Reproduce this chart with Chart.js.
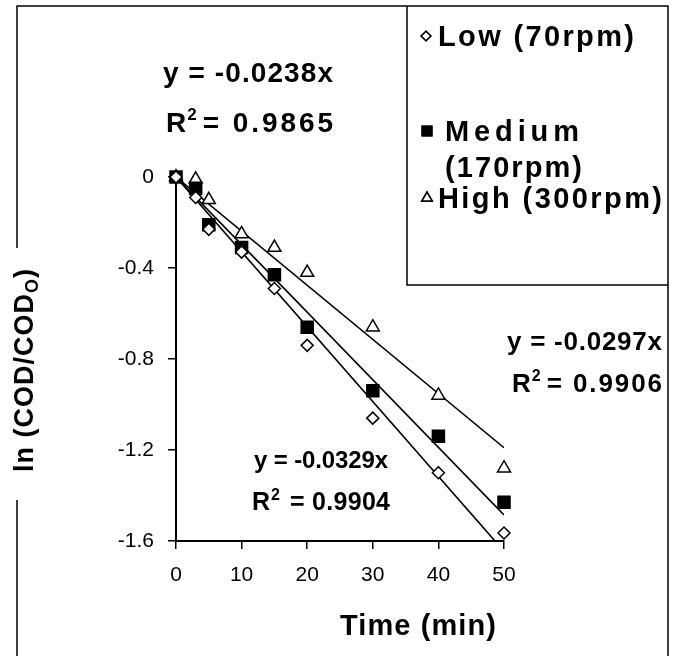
<!DOCTYPE html>
<html>
<head>
<meta charset="utf-8">
<script src="https://cdn.jsdelivr.net/npm/chart.js@4.4.0/dist/chart.umd.min.js"></script>
<style>
  html, body { margin: 0; padding: 0; background: #fff; }
  #wrap { width: 674px; height: 656px; }
</style>
</head>
<body>
<div id="wrap"><canvas id="kinetics" width="674" height="656"></canvas></div>
<script>
// Datos
const times = [0, 3, 5, 10, 15, 20, 30, 40, 50];
const lowValues = [0, -0.09, -0.23, -0.33, -0.49, -0.74, -1.06, -1.30, -1.565];
const mediumValues = [0, -0.05, -0.21, -0.31, -0.43, -0.66, -0.94, -1.14, -1.43];
const highValues = [0, -0.01, -0.10, -0.25, -0.31, -0.42, -0.66, -0.96, -1.28];
const seriesNames = ['Low (70rpm)', 'Medium', '(170rpm)', 'High (300rpm)'];

// Líneas de tendencia (pasan por el origen)
const trendX = [0, 50];
const lowTrend = [0, -1.645];
const mediumTrend = [0, -1.485];
const highTrend = [0, -1.19];
const trendEquations = ['y = -0.0329x', 'y = -0.0297x', 'y = -0.0238x'];
const trendR2 = ['0.9904', '0.9906', '0.9865'];

const xTicks = [0, 10, 20, 30, 40, 50];
const yTicks = [-1.6, -1.2, -0.8, -0.4, 0];
const yTickLabels = ['-1.6', '-1.2', '-0.8', '-0.4', '0'];

const FONT = "'Liberation Sans', Arial, sans-serif";

const toPoints = (xs, ys) => xs.map((x, i) => ({ x: x, y: ys[i] }));

function markerSet(label, values, style, fill, radius) {
  return {
    label: label,
    data: toPoints(times, values),
    showLine: false,
    pointStyle: style,
    pointRadius: radius,
    pointHoverRadius: radius,
    pointBackgroundColor: fill,
    pointBorderColor: '#000',
    pointBorderWidth: 1.5,
    clip: false
  };
}

function trendSet(values) {
  return {
    data: toPoints(trendX, values),
    showLine: true,
    borderColor: '#000',
    borderWidth: 1.6,
    pointRadius: 0,
    fill: false
  };
}

// texto con espaciado para ajustar a un ancho dado
function fitText(ctx, str, x, y, size, width, align) {
  ctx.font = 'bold ' + size + 'px ' + FONT;
  ctx.letterSpacing = '0px';
  const w = ctx.measureText(str).width;
  let ls = width ? (width - w) / Math.max(1, str.length - 1) : 0;
  ctx.letterSpacing = ls + 'px';
  const real = w + ls * (str.length - 1);
  let sx = x;
  if (align === 'right') sx = x - real;
  if (align === 'center') sx = x - real / 2;
  ctx.textAlign = 'left';
  ctx.fillText(str, sx, y);
  ctx.letterSpacing = '0px';
  return sx + real;
}

// R² con superíndice; "right" es el borde derecho del valor
function drawR2(ctx, x, y, value, size, gap, right) {
  ctx.font = 'bold ' + size + 'px ' + FONT;
  ctx.textAlign = 'left';
  ctx.fillText('R', x, y);
  let cx = x + ctx.measureText('R').width + 1;
  ctx.font = 'bold ' + Math.round(size * 0.62) + 'px ' + FONT;
  ctx.fillText('2', cx, y - size * 0.42);
  cx += ctx.measureText('2').width + gap;
  fitText(ctx, '= ' + value, cx, y, size, right - cx, 'left');
}

const decorPlugin = {
  id: 'decor',
  afterDraw(chart) {
    const ctx = chart.ctx;
    ctx.save();
    ctx.fillStyle = '#000';
    ctx.strokeStyle = '#000';
    ctx.textBaseline = 'alphabetic';

    // marco exterior (interrumpido por el título del eje Y)
    ctx.lineWidth = 1.5;
    ctx.beginPath();
    ctx.moveTo(17, 248); ctx.lineTo(17, 6); ctx.lineTo(668, 6); ctx.lineTo(668, 662);
    ctx.moveTo(17, 500); ctx.lineTo(17, 662);
    // caja de leyenda
    ctx.moveTo(407, 6); ctx.lineTo(407, 285); ctx.lineTo(668, 285);
    ctx.stroke();

    // leyenda
    const ds = chart.data.datasets;
    const legendMarks = [[ds[0], 426, 36], [ds[1], 427, 131], [ds[2], 427, 198]];
    legendMarks.forEach(([d, x, y]) => {
      Chart.helpers.drawPoint(ctx, {
        pointStyle: d.pointStyle,
        radius: d.pointRadius * 0.8,
        borderWidth: 1.5,
        rotation: 0
      }, x, y);
      ctx.fillStyle = d.pointBackgroundColor;
      ctx.fill();
      ctx.stroke();
    });
    ctx.fillStyle = '#000';
    fitText(ctx, seriesNames[0], 438, 46, 29, 196, 'left');
    fitText(ctx, seriesNames[1], 445, 141, 29, 134, 'left');
    fitText(ctx, seriesNames[2], 445, 177, 29, 137, 'left');
    fitText(ctx, seriesNames[3], 438, 208, 29, 224, 'left');

    // ecuaciones de las tendencias
    fitText(ctx, trendEquations[2], 163, 82, 28, 170, 'left');
    drawR2(ctx, 166, 132, trendR2[2], 28, 6, 333);
    fitText(ctx, trendEquations[1], 662, 350, 26, 155, 'right');
    drawR2(ctx, 512, 392, trendR2[1], 26, 6, 662);
    fitText(ctx, trendEquations[0], 254, 468, 24, 134, 'left');
    drawR2(ctx, 252, 510, trendR2[0], 25, 10, 390);

    // títulos de ejes
    fitText(ctx, 'Time (min)', 418, 635, 29, 156, 'center');

    ctx.save();
    ctx.translate(33, 370);
    ctx.rotate(-Math.PI / 2);
    const size = 27;
    ctx.font = 'bold ' + size + 'px ' + FONT;
    ctx.letterSpacing = '1px';
    const main = 'ln (COD/COD';
    const wMain = ctx.measureText(main).width;
    ctx.font = 'bold ' + Math.round(size * 0.68) + 'px ' + FONT;
    const wSub = ctx.measureText('O').width;
    ctx.font = 'bold ' + size + 'px ' + FONT;
    const wEnd = ctx.measureText(')').width;
    let sx = -(wMain + wSub + wEnd) / 2;
    ctx.textAlign = 'left';
    ctx.fillText(main, sx, 0);
    sx += wMain;
    ctx.font = 'bold ' + Math.round(size * 0.68) + 'px ' + FONT;
    ctx.fillText('O', sx, 5);
    sx += wSub;
    ctx.font = 'bold ' + size + 'px ' + FONT;
    ctx.fillText(')', sx, 0);
    ctx.restore();

    ctx.restore();
  }
};

const ctx = document.getElementById('kinetics').getContext('2d');
new Chart(ctx, {
  type: 'scatter',
  data: {
    datasets: [
      markerSet(seriesNames[0], lowValues, 'rectRot', '#fff', 6),
      markerSet('Medium (170rpm)', mediumValues, 'rect', '#000', 8.5),
      markerSet(seriesNames[3], highValues, 'triangle', '#fff', 7.5),
      trendSet(lowTrend),
      trendSet(mediumTrend),
      trendSet(highTrend)
    ]
  },
  options: {
    responsive: false,
    animation: false,
    events: [],
    layout: { padding: { top: 177, right: 170, left: 0, bottom: 0 } },
    plugins: {
      legend: { display: false },
      tooltip: { enabled: false },
      title: { display: false }
    },
    scales: {
      x: {
        type: 'linear',
        min: 0,
        max: 50,
        afterFit: (scale) => { scale.height = 115; },
        afterBuildTicks: (scale) => { scale.ticks = xTicks.map(v => ({ value: v })); },
        grid: {
          drawOnChartArea: false,
          drawTicks: true,
          tickLength: 8,
          color: '#000',
          lineWidth: 1.5
        },
        border: { display: true, color: '#000', width: 2 },
        ticks: {
          color: '#000',
          padding: 14,
          maxRotation: 0,
          font: { family: FONT, size: 21 },
          callback: (v) => String(v)
        }
      },
      y: {
        type: 'linear',
        min: -1.6,
        max: 0,
        afterFit: (scale) => { scale.width = 176; },
        afterBuildTicks: (scale) => { scale.ticks = yTicks.map(v => ({ value: v })); },
        grid: {
          drawOnChartArea: false,
          drawTicks: true,
          tickLength: 8,
          color: '#000',
          lineWidth: 1.5
        },
        border: { display: true, color: '#000', width: 2 },
        ticks: {
          color: '#000',
          padding: 14,
          font: { family: FONT, size: 21 },
          callback: (v, i) => yTickLabels[i]
        }
      }
    }
  },
  plugins: [decorPlugin]
});
</script>
</body>
</html>
